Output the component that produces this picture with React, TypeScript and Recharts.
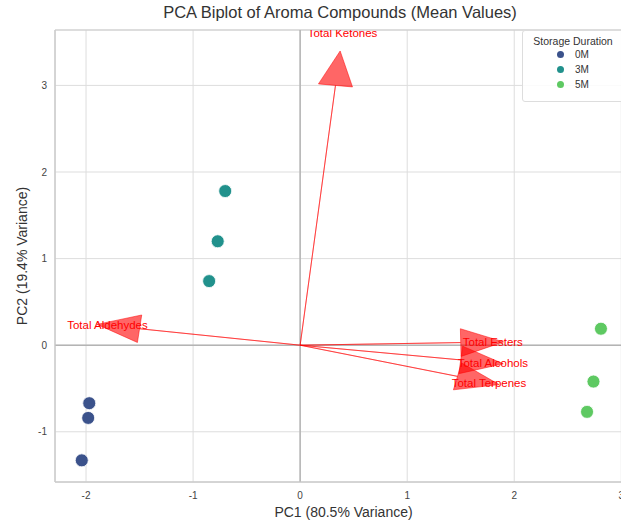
import { ScatterChart, Scatter, XAxis, YAxis, CartesianGrid, ReferenceLine, ReferenceArea } from 'recharts'

// sample scores (PC1, PC2) per storage duration
const scores0M = [
  { x: -1.97, y: -0.67 },
  { x: -1.98, y: -0.84 },
  { x: -2.04, y: -1.33 },
]
const scores3M = [
  { x: -0.7, y: 1.78 },
  { x: -0.77, y: 1.2 },
  { x: -0.85, y: 0.74 },
]
const scores5M = [
  { x: 2.81, y: 0.19 },
  { x: 2.74, y: -0.42 },
  { x: 2.68, y: -0.77 },
]

const groups = ['0M', '3M', '5M']
const groupColors = ['#3b528b', '#21918c', '#5ec962']

// loadings (scaled)
const loadingNames = ['Total Ketones', 'Total Aldehydes', 'Total Esters', 'Total Alcohols', 'Total Terpenes']
const loadingPC1 = [0.33, -1.5, 1.5, 1.5, 1.47]
const loadingPC2 = [3.0, 0.19, 0.03, -0.17, -0.36]

const xTicks = [-2, -1, 0, 1, 2, 3]
const yTicks = [-1, 0, 1, 2, 3]
const X_DOMAIN = [-2.29, 3.1]
const Y_DOMAIN = [-1.58, 3.64]

const HEAD_W = 0.32
const HEAD_L = 0.4
const LABEL_SCALE = 1.2
const FONT = '"Liberation Sans", Arial, sans-serif'

// arrow polygon in data units, like matplotlib's FancyArrow
function arrowPoints(dx: number, dy: number) {
  const len = Math.sqrt(dx * dx + dy * dy)
  const ux = dx / len, uy = dy / len
  const nx = -uy, ny = ux
  return [
    { x: 0, y: 0 },
    { x: dx, y: dy },
    { x: dx + nx * HEAD_W / 2, y: dy + ny * HEAD_W / 2 },
    { x: dx + ux * HEAD_L, y: dy + uy * HEAD_L },
    { x: dx - nx * HEAD_W / 2, y: dy - ny * HEAD_W / 2 },
    { x: dx, y: dy },
  ]
}

const arrows = loadingNames.map((n, i) => ({ name: n, points: arrowPoints(loadingPC1[i], loadingPC2[i]) }))
const arrowLabels = loadingNames.map((n, i) => ({ name: n, x: loadingPC1[i] * LABEL_SCALE, y: loadingPC2[i] * LABEL_SCALE }))

const seriesData = [scores0M, scores3M, scores5M]

const ArrowShape = (p: any) => {
  const pts = p.points || []
  if (!pts.length) return <g />
  const d = pts.map((q: any, i: number) => `${i ? 'L' : 'M'}${q.x},${q.y}`).join(' ') + ' Z'
  return <path d={d} fill="rgba(255,0,0,0.6)" stroke="rgba(255,0,0,0.5)" strokeWidth={1} strokeLinejoin="miter" />
}

export default function App() {
  return (
    <div style={{ position: 'absolute', left: 0, top: 0, width: 621, height: 524, overflow: 'hidden', background: '#fff', fontFamily: FONT }}>
      <div style={{ position: 'absolute', top: 3, left: 0, width: 680, textAlign: 'center', fontSize: 16.5, color: '#333' }}>
        PCA Biplot of Aroma Compounds (Mean Values)
      </div>
      <ScatterChart width={640} height={524} margin={{ top: 30, right: 8, left: 0, bottom: 0 }}>
        <CartesianGrid stroke="#dddddd" strokeWidth={1} />
        <ReferenceArea x1={X_DOMAIN[0]} x2={X_DOMAIN[1]} y1={Y_DOMAIN[0]} y2={Y_DOMAIN[1]} fill="none" stroke="#cccccc" fillOpacity={0} />
        <XAxis
          type="number"
          dataKey="x"
          domain={X_DOMAIN}
          ticks={xTicks}
          allowDataOverflow
          height={42}
          tickLine={false}
          axisLine={{ stroke: '#cccccc' }}
          tick={{ fontSize: 10, fill: '#444', fontFamily: FONT }}
          tickMargin={4}
          label={{ value: 'PC1 (80.5% Variance)', position: 'insideBottom', offset: 7, style: { fontSize: 14, fill: '#333', fontFamily: FONT } }}
        />
        <YAxis
          type="number"
          dataKey="y"
          domain={Y_DOMAIN}
          ticks={yTicks}
          allowDataOverflow
          width={55}
          tickLine={false}
          axisLine={{ stroke: '#cccccc' }}
          tick={{ fontSize: 10, fill: '#444', fontFamily: FONT }}
          label={{ value: 'PC2 (19.4% Variance)', angle: -90, position: 'insideLeft', offset: 22, style: { fontSize: 14, fill: '#333', textAnchor: 'middle', fontFamily: FONT } }}
        />
        <ReferenceLine x={0} stroke="#b4b4b4" strokeWidth={1.5} />
        <ReferenceLine y={0} stroke="#b4b4b4" strokeWidth={1.5} />
        {seriesData.map((d, i) => (
          <Scatter
            key={groups[i]}
            name={groups[i]}
            data={d}
            fill={groupColors[i]}
            isAnimationActive={false}
            shape={(p: any) => <circle cx={p.cx} cy={p.cy} r={6.5} fill={groupColors[i]} stroke="#fff" strokeWidth={0.8} />}
          />
        ))}
        {arrows.map((a) => (
          <Scatter
            key={a.name}
            data={a.points}
            isAnimationActive={false}
            line={ArrowShape}
            shape={() => <g />}
          />
        ))}
        <Scatter
          data={arrowLabels}
          isAnimationActive={false}
          shape={(p: any) => (
            <text x={p.cx} y={p.cy} textAnchor="middle" dominantBaseline="central" fontSize={11.5} fill="#ff0000" fontFamily={FONT}>
              {p.payload.name}
            </text>
          )}
        />
      </ScatterChart>
      <div style={{ position: 'absolute', left: 522, top: 30, width: 100, height: 70, background: 'rgba(255,255,255,0.85)', border: '1px solid #dddddd', borderRadius: 3, fontSize: 10.5, color: '#333' }}>
        <div style={{ textAlign: 'center', marginTop: 4 }}>Storage Duration</div>
        {groups.map((g, i) => (
          <div key={g} style={{ display: 'flex', alignItems: 'center', height: 15, marginLeft: 34 }}>
            <span style={{ display: 'inline-block', width: 7, height: 7, borderRadius: 4, background: groupColors[i], marginRight: 11 }} />
            <span style={{ fontSize: 10 }}>{g}</span>
          </div>
        ))}
      </div>
    </div>
  )
}
